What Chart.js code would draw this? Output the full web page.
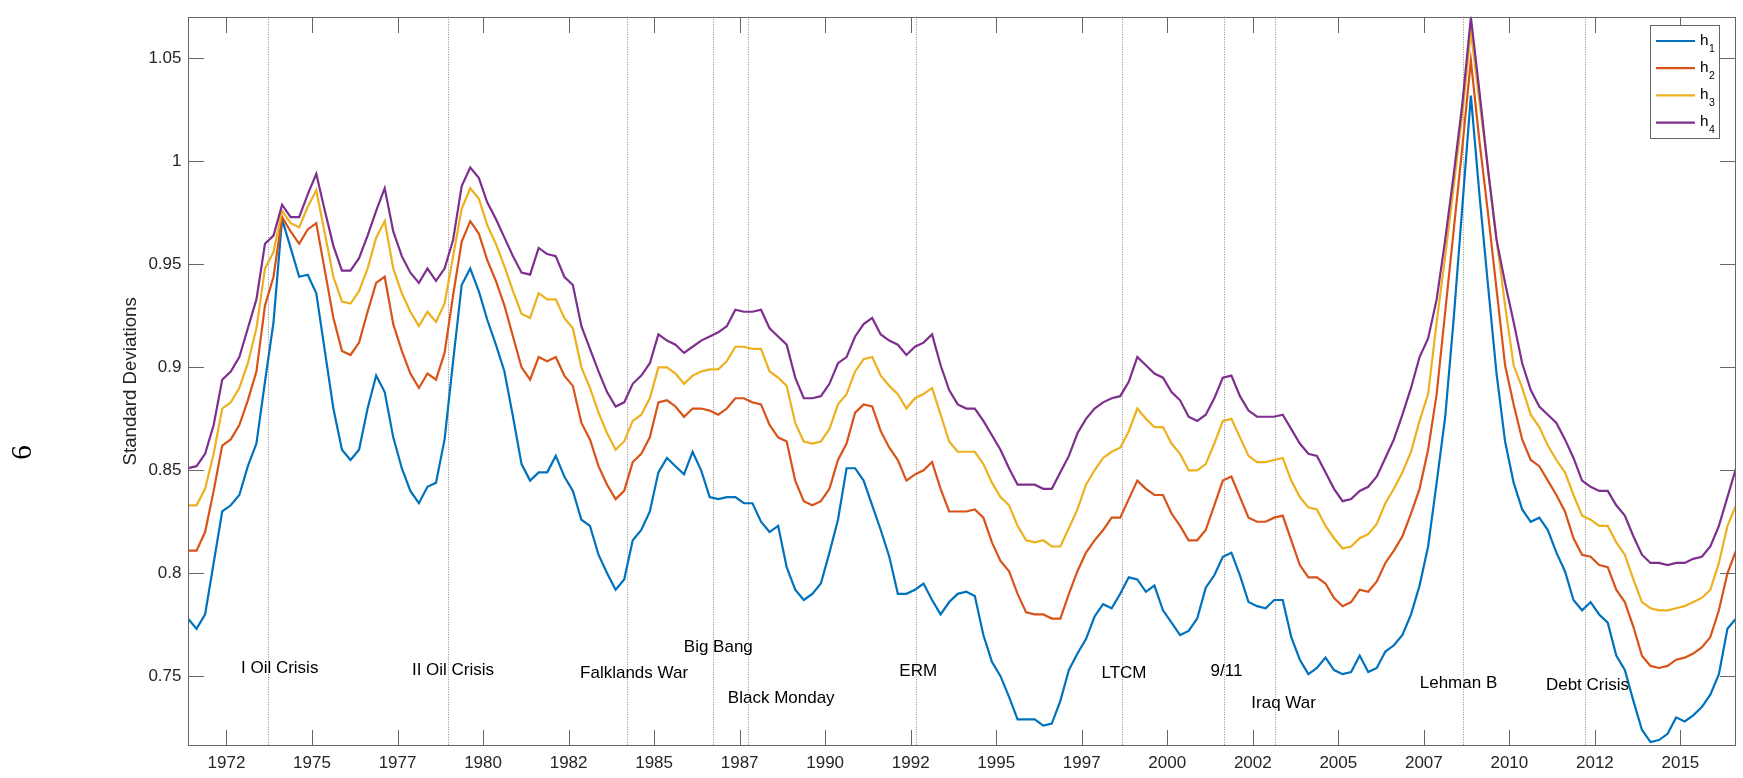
<!DOCTYPE html>
<html><head><meta charset="utf-8">
<script src="https://cdn.jsdelivr.net/npm/chart.js@4/dist/chart.umd.min.js"></script>
<style>html,body{margin:0;padding:0;background:#fff;}#wrap{width:1743px;height:778px;position:relative;}</style>
</head><body><div id="wrap"><canvas id="c" width="1743" height="778"></canvas></div>
<script>
// ---------------- data ----------------
const seriesNames = ['h1', 'h2', 'h3', 'h4'];
const firstQuarter = [1971, 2];
const lastQuarter = [2016, 3];

const h1 = [0.778,0.773,0.780,0.805,0.830,0.833,0.838,0.852,0.863,0.893,
0.922,0.972,0.958,0.944,0.945,0.936,0.908,0.880,0.860,0.855,
0.860,0.880,0.896,0.888,0.866,0.851,0.840,0.834,0.842,0.844,
0.865,0.903,0.940,0.948,0.937,0.923,0.911,0.898,0.876,0.853,
0.845,0.849,0.849,0.857,0.847,0.840,0.826,0.823,0.809,0.800,
0.792,0.797,0.816,0.821,0.830,0.849,0.856,0.852,0.848,0.859,
0.850,0.837,0.836,0.837,0.837,0.834,0.834,0.825,0.820,0.823,
0.803,0.792,0.787,0.790,0.795,0.810,0.826,0.851,0.851,0.845,
0.833,0.821,0.808,0.790,0.790,0.792,0.795,0.787,0.780,0.786,
0.790,0.791,0.789,0.770,0.757,0.750,0.740,0.729,0.729,0.729,
0.726,0.727,0.738,0.753,0.761,0.768,0.779,0.785,0.783,0.790,
0.798,0.797,0.791,0.794,0.782,0.776,0.770,0.772,0.778,0.793,
0.799,0.808,0.810,0.799,0.786,0.784,0.783,0.787,0.787,0.769,
0.758,0.751,0.754,0.759,0.753,0.751,0.752,0.760,0.752,0.754,
0.762,0.765,0.770,0.780,0.794,0.813,0.844,0.876,0.924,0.978,
1.032,0.984,0.940,0.897,0.864,0.844,0.831,0.825,0.827,0.821,
0.810,0.801,0.787,0.782,0.786,0.780,0.776,0.760,0.753,0.738,
0.724,0.718,0.719,0.722,0.730,0.728,0.731,0.735,0.741,0.751,
0.773,0.778];

const h2 = [0.811,0.811,0.820,0.840,0.862,0.865,0.872,0.884,0.898,0.930,
0.944,0.973,0.966,0.960,0.967,0.970,0.947,0.924,0.908,0.906,
0.912,0.927,0.941,0.944,0.921,0.908,0.897,0.890,0.897,0.894,
0.907,0.935,0.961,0.971,0.965,0.952,0.942,0.930,0.915,0.900,
0.894,0.905,0.903,0.905,0.896,0.891,0.873,0.865,0.852,0.843,
0.836,0.840,0.854,0.858,0.866,0.883,0.884,0.881,0.876,0.880,
0.880,0.879,0.877,0.880,0.885,0.885,0.883,0.882,0.872,0.866,
0.864,0.845,0.835,0.833,0.835,0.841,0.855,0.863,0.878,0.882,
0.881,0.869,0.861,0.855,0.845,0.848,0.850,0.854,0.841,0.830,
0.830,0.830,0.831,0.827,0.815,0.806,0.801,0.790,0.781,0.780,
0.780,0.778,0.778,0.790,0.801,0.810,0.816,0.821,0.827,0.827,
0.836,0.845,0.841,0.838,0.838,0.829,0.823,0.816,0.816,0.821,
0.833,0.845,0.847,0.837,0.827,0.825,0.825,0.827,0.828,0.816,
0.804,0.798,0.798,0.795,0.788,0.784,0.786,0.792,0.791,0.796,
0.805,0.811,0.818,0.829,0.841,0.860,0.887,0.927,0.967,1.007,
1.049,1.010,0.975,0.938,0.901,0.882,0.865,0.855,0.852,0.845,
0.838,0.830,0.817,0.809,0.808,0.804,0.803,0.792,0.786,0.774,
0.760,0.755,0.754,0.755,0.758,0.759,0.761,0.764,0.769,0.782,
0.800,0.811];

const h3 = [0.833,0.833,0.841,0.858,0.880,0.883,0.890,0.902,0.919,0.948,
0.956,0.976,0.970,0.968,0.978,0.986,0.965,0.944,0.932,0.931,
0.937,0.948,0.963,0.971,0.948,0.936,0.927,0.920,0.927,0.922,
0.931,0.954,0.977,0.987,0.982,0.969,0.960,0.949,0.937,0.926,
0.924,0.936,0.933,0.933,0.924,0.919,0.900,0.890,0.878,0.868,
0.860,0.864,0.874,0.877,0.885,0.900,0.900,0.897,0.892,0.896,
0.898,0.899,0.899,0.903,0.910,0.910,0.909,0.909,0.898,0.895,
0.891,0.873,0.864,0.863,0.864,0.870,0.882,0.887,0.898,0.904,
0.905,0.896,0.891,0.887,0.880,0.885,0.887,0.890,0.877,0.864,
0.859,0.859,0.859,0.853,0.844,0.837,0.833,0.823,0.816,0.815,
0.816,0.813,0.813,0.822,0.831,0.843,0.850,0.856,0.859,0.861,
0.869,0.880,0.875,0.871,0.871,0.863,0.858,0.850,0.850,0.853,
0.863,0.874,0.875,0.866,0.857,0.854,0.854,0.855,0.856,0.845,
0.837,0.832,0.831,0.823,0.817,0.812,0.813,0.817,0.819,0.824,
0.834,0.841,0.849,0.859,0.874,0.887,0.922,0.954,0.988,1.023,
1.063,1.029,0.997,0.962,0.930,0.901,0.890,0.877,0.871,0.862,
0.855,0.849,0.838,0.828,0.826,0.823,0.823,0.815,0.809,0.797,
0.786,0.783,0.782,0.782,0.783,0.784,0.786,0.788,0.792,0.805,
0.823,0.833];

const h4 = [0.851,0.852,0.858,0.872,0.894,0.898,0.905,0.919,0.933,0.960,
0.964,0.979,0.973,0.973,0.984,0.994,0.976,0.959,0.947,0.947,
0.953,0.964,0.976,0.987,0.966,0.954,0.946,0.941,0.948,0.942,
0.948,0.962,0.988,0.997,0.992,0.980,0.972,0.963,0.954,0.946,
0.945,0.958,0.955,0.954,0.944,0.940,0.920,0.909,0.898,0.888,
0.881,0.883,0.892,0.896,0.902,0.916,0.913,0.911,0.907,0.910,
0.913,0.915,0.917,0.920,0.928,0.927,0.927,0.928,0.919,0.915,
0.911,0.895,0.885,0.885,0.886,0.892,0.902,0.905,0.915,0.921,
0.924,0.916,0.913,0.911,0.906,0.910,0.912,0.916,0.901,0.889,
0.882,0.880,0.880,0.874,0.867,0.860,0.851,0.843,0.843,0.843,
0.841,0.841,0.849,0.857,0.868,0.875,0.880,0.883,0.885,0.886,
0.893,0.905,0.901,0.897,0.895,0.888,0.884,0.876,0.874,0.877,
0.885,0.895,0.896,0.886,0.879,0.876,0.876,0.876,0.877,0.870,
0.863,0.858,0.857,0.849,0.841,0.835,0.836,0.840,0.842,0.847,
0.856,0.865,0.877,0.890,0.905,0.914,0.933,0.962,0.994,1.028,
1.070,1.034,0.996,0.962,0.941,0.922,0.902,0.889,0.881,0.877,
0.873,0.865,0.856,0.845,0.842,0.840,0.840,0.833,0.828,0.818,
0.809,0.805,0.805,0.804,0.805,0.805,0.807,0.808,0.813,0.823,
0.837,0.851];

const xTickValues = [1972.5,1975,1977.5,1980,1982.5,1985,1987.5,1990,1992.5,1995,1997.5,2000,2002.5,2005,2007.5,2010,2012.5,2015];
const xTickLabels = ['1972','1975','1977','1980','1982','1985','1987','1990','1992','1995','1997','2000','2002','2005','2007','2010','2012','2015'];
const yTickValues = [0.75,0.8,0.85,0.9,0.95,1,1.05];
const yTickLabels = ['0.75','0.8','0.85','0.9','0.95','1','1.05'];

const eventNames  = ['I Oil Crisis','II Oil Crisis','Falklands War','Big Bang','Black Monday','ERM','LTCM','9/11','Iraq War','Lehman B','Debt Crisis'];
const eventDates  = [1973.717,1978.983,1984.22,1986.735,1987.74,1992.655,1998.68,2001.657,2003.148,2008.65,2012.21];
const eventLabelX = [1972.923,1977.92,1982.835,1985.868,1987.155,1992.168,1998.078,2001.267,2002.458,2007.38,2011.068];
const eventLabelY = [0.7537,0.7527,0.7515,0.7639,0.7394,0.7524,0.7516,0.7522,0.7369,0.7466,0.7455];

const yTitle = 'Standard Deviations';
const sideLabel = '6';

// ---------------- build ----------------
const quarterLabels = [];
const quarterX = [];
for (let yr = firstQuarter[0], q = firstQuarter[1]; yr < lastQuarter[0] || (yr === lastQuarter[0] && q <= lastQuarter[1]); ) {
  quarterLabels.push(yr + 'Q' + q);
  quarterX.push(yr + (q - 1) * 0.25 + 0.125);
  q++; if (q > 4) { q = 1; yr++; }
}
const seriesValues = [h1, h2, h3, h4];
const seriesColors = ['#0072BD', '#D95319', '#EDB120', '#7E2F8E'];

const FONT = '"Liberation Sans", Arial, Helvetica, sans-serif';
Chart.defaults.font.family = FONT;

const axisColor = '#666666';
const tickLen = 15.5;

const framePlugin = {
  id: 'matlabFrame',
  beforeDatasetsDraw(chart) {
    const {ctx, chartArea: a, scales: {x}} = chart;
    ctx.save();
    ctx.strokeStyle = '#8a8a8a';
    ctx.lineWidth = 1;
    ctx.setLineDash([1, 1.5]);
    eventDates.forEach(d => {
      const px = Math.round(x.getPixelForValue(d)) + 0.5;
      ctx.beginPath(); ctx.moveTo(px, a.top); ctx.lineTo(px, a.bottom); ctx.stroke();
    });
    ctx.restore();
  },
  afterDatasetsDraw(chart) {
    const {ctx, chartArea: a, scales: {x, y}} = chart;
    ctx.save();
    // event labels
    ctx.fillStyle = '#000';
    ctx.font = '17px ' + FONT;
    ctx.textAlign = 'left';
    ctx.textBaseline = 'middle';
    eventNames.forEach((n, i) => {
      ctx.fillText(n, x.getPixelForValue(eventLabelX[i]), y.getPixelForValue(eventLabelY[i]));
    });
    // frame
    ctx.strokeStyle = axisColor;
    ctx.lineWidth = 1;
    const L = Math.round(a.left) + 0.5, R = Math.round(a.right) - 0.5;
    const T = Math.round(a.top) + 0.5, B = Math.round(a.bottom) - 0.5;
    ctx.strokeRect(L, T, R - L, B - T);
    ctx.beginPath();
    xTickValues.forEach(v => {
      const px = Math.round(x.getPixelForValue(v)) + 0.5;
      ctx.moveTo(px, B); ctx.lineTo(px, B - tickLen);
      ctx.moveTo(px, T); ctx.lineTo(px, T + tickLen);
    });
    yTickValues.forEach(v => {
      const py = Math.round(y.getPixelForValue(v)) + 0.5;
      ctx.moveTo(L, py); ctx.lineTo(L + tickLen, py);
      ctx.moveTo(R, py); ctx.lineTo(R - tickLen, py);
    });
    ctx.stroke();
    ctx.restore();
  },
  afterDraw(chart) {
    const ctx = chart.ctx;
    ctx.save();
    // side label
    ctx.fillStyle = '#000';
    ctx.font = '29px "Liberation Serif", "DejaVu Serif", serif';
    ctx.textAlign = 'center';
    ctx.textBaseline = 'middle';
    ctx.translate(23.5, 452.5);
    ctx.rotate(-Math.PI / 2);
    ctx.fillText(sideLabel, 0, 0);
    ctx.restore();
    // legend
    ctx.save();
    const bx = 1650.5, by = 25.5, bw = 69, bh = 113;
    ctx.fillStyle = '#fff';
    ctx.fillRect(bx, by, bw, bh);
    ctx.strokeStyle = axisColor;
    ctx.lineWidth = 1;
    ctx.strokeRect(bx, by, bw, bh);
    chart.data.datasets.forEach((ds, i) => {
      const ly = 41 + i * 27.2;
      ctx.strokeStyle = ds.borderColor;
      ctx.lineWidth = 2.2;
      ctx.beginPath(); ctx.moveTo(1656, ly); ctx.lineTo(1695, ly); ctx.stroke();
      ctx.fillStyle = '#000';
      ctx.textAlign = 'left';
      ctx.textBaseline = 'alphabetic';
      ctx.font = '15.3px ' + FONT;
      ctx.fillText(ds.label.charAt(0), 1700, ly + 3.5);
      ctx.font = '10.5px ' + FONT;
      ctx.fillText(ds.label.slice(1), 1709, ly + 10.5);
    });
    ctx.restore();
  }
};

const datasets = seriesNames.map((name, k) => ({
  label: name,
  data: seriesValues[k].map((v, i) => ({x: quarterX[i], y: v})),
  borderColor: seriesColors[k],
  backgroundColor: seriesColors[k],
  borderWidth: 2.2,
  pointRadius: 0,
  tension: 0,
  fill: false,
  order: seriesNames.length - k
}));

new Chart(document.getElementById('c'), {
  type: 'line',
  data: {datasets},
  plugins: [framePlugin],
  options: {
    responsive: false,
    devicePixelRatio: 1,
    animation: false,
    events: [],
    layout: {padding: {top: 7, right: 7, left: 0, bottom: 0}},
    plugins: {legend: {display: false}, tooltip: {enabled: false}, title: {display: false}},
    scales: {
      x: {
        type: 'linear',
        min: quarterX[0],
        max: quarterX[quarterX.length - 1],
        grid: {display: false, drawTicks: false},
        border: {display: false},
        afterBuildTicks: s => { s.ticks = xTickValues.map(v => ({value: v})); },
        afterFit: s => { s.height = 32; },
        ticks: {
          autoSkip: false, maxRotation: 0, minRotation: 0, padding: 6.8,
          color: '#262626', font: {size: 17, family: FONT},
          callback: (v, i) => xTickLabels[i]
        }
      },
      y: {
        type: 'linear',
        min: 0.7161,
        max: 1.0703,
        grid: {display: false, drawTicks: false},
        border: {display: false},
        afterBuildTicks: s => { s.ticks = yTickValues.map(v => ({value: v})); },
        afterFit: s => { s.width = 188; },
        title: {
          display: true, text: yTitle, color: '#262626',
          font: {size: 18.7, family: FONT}, padding: {top: 120, bottom: 0}
        },
        ticks: {
          autoSkip: false, padding: 6.5,
          color: '#262626', font: {size: 17, family: FONT},
          callback: (v, i) => yTickLabels[i]
        }
      }
    }
  }
});
</script>
</body></html>
